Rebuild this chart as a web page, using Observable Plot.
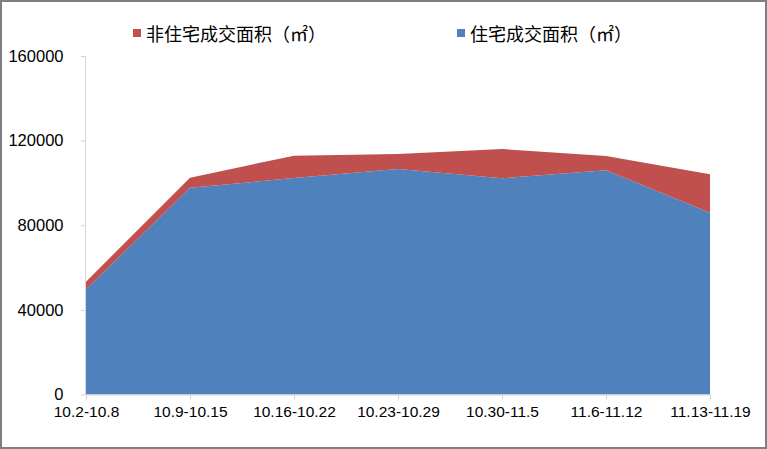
<!DOCTYPE html>
<html>
<head>
<meta charset="utf-8">
<script src="https://cdn.jsdelivr.net/npm/d3@7"></script>
<script src="https://cdn.jsdelivr.net/npm/@observablehq/plot@0.6"></script>
<style>
  html, body { margin: 0; padding: 0; background: #fff; }
  #wrap { position: relative; width: 767px; height: 449px; box-sizing: border-box; border: 2px solid #7f7f7f; background: #fff; overflow: hidden; }
  #legend { position: relative; height: 43px; font-family: "Noto Sans CJK SC", sans-serif; font-size: 18px; color: #000; }
  .item { position: absolute; top: 19px; display: flex; align-items: center; line-height: 24px; white-space: nowrap; }
  .sw { width: 8px; height: 8px; margin-right: 5px; }
  #chart svg { display: block; }
</style>
</head>
<body>
<div id="wrap">
  <div id="legend"></div>
  <div id="chart"></div>
</div>
<script>
const categories = ["10.2-10.8", "10.9-10.15", "10.16-10.22", "10.23-10.29", "10.30-11.5", "11.6-11.12", "11.13-11.19"];
const residential = [49700, 97700, 102300, 106600, 102200, 106000, 85900];
const nonResidential = [3600, 4800, 10600, 7100, 13850, 6700, 18200];
const seriesNames = ["住宅成交面积（㎡）", "非住宅成交面积（㎡）"];
const seriesColors = ["#4F81BD", "#C0504D"];
const yTicks = [0, 40000, 80000, 120000, 160000];

const data = [];
categories.forEach((c, i) => data.push({week: c, series: seriesNames[0], value: residential[i]}));
categories.forEach((c, i) => data.push({week: c, series: seriesNames[1], value: nonResidential[i]}));

// legend (red first, then blue, as in the reference)
const legend = document.getElementById("legend");
[[1, 131], [0, 455]].forEach(([k, left]) => {
  const it = document.createElement("div");
  it.className = "item";
  it.style.left = left + "px";
  it.innerHTML = `<span class="sw" style="background:${seriesColors[k]}"></span><span>${seriesNames[k]}</span>`;
  legend.appendChild(it);
});

const chart = Plot.plot({
  width: 763,
  height: 402,
  marginLeft: 83,
  marginRight: 54,
  marginTop: 11,
  marginBottom: 52.5,
  style: {fontFamily: "'Liberation Sans', Arial, sans-serif", fontSize: "15.5px", color: "#000", background: "#fff"},
  x: {type: "point", domain: categories, padding: 0, label: null},
  y: {domain: [0, 160000], label: null},
  color: {domain: seriesNames, range: seriesColors},
  marks: [
    Plot.areaY(data, {x: "week", y: "value", z: "series", fill: "series", order: seriesNames}),
    Plot.ruleY([0], {stroke: "#d9d9d9"}),
    Plot.ruleX([categories[0]], {stroke: "#d9d9d9", dx: -1}),
    Plot.axisY({ticks: yTicks, tickSize: 4, tickPadding: 18, stroke: "#d0d0d0", fill: "#000", fontSize: 16.5, tickFormat: d => String(d), label: null}),
    Plot.axisX({tickSize: 5, tickPadding: 6, stroke: "#d0d0d0", fill: "#000", label: null})
  ]
});
document.getElementById("chart").appendChild(chart);
</script>
</body>
</html>
